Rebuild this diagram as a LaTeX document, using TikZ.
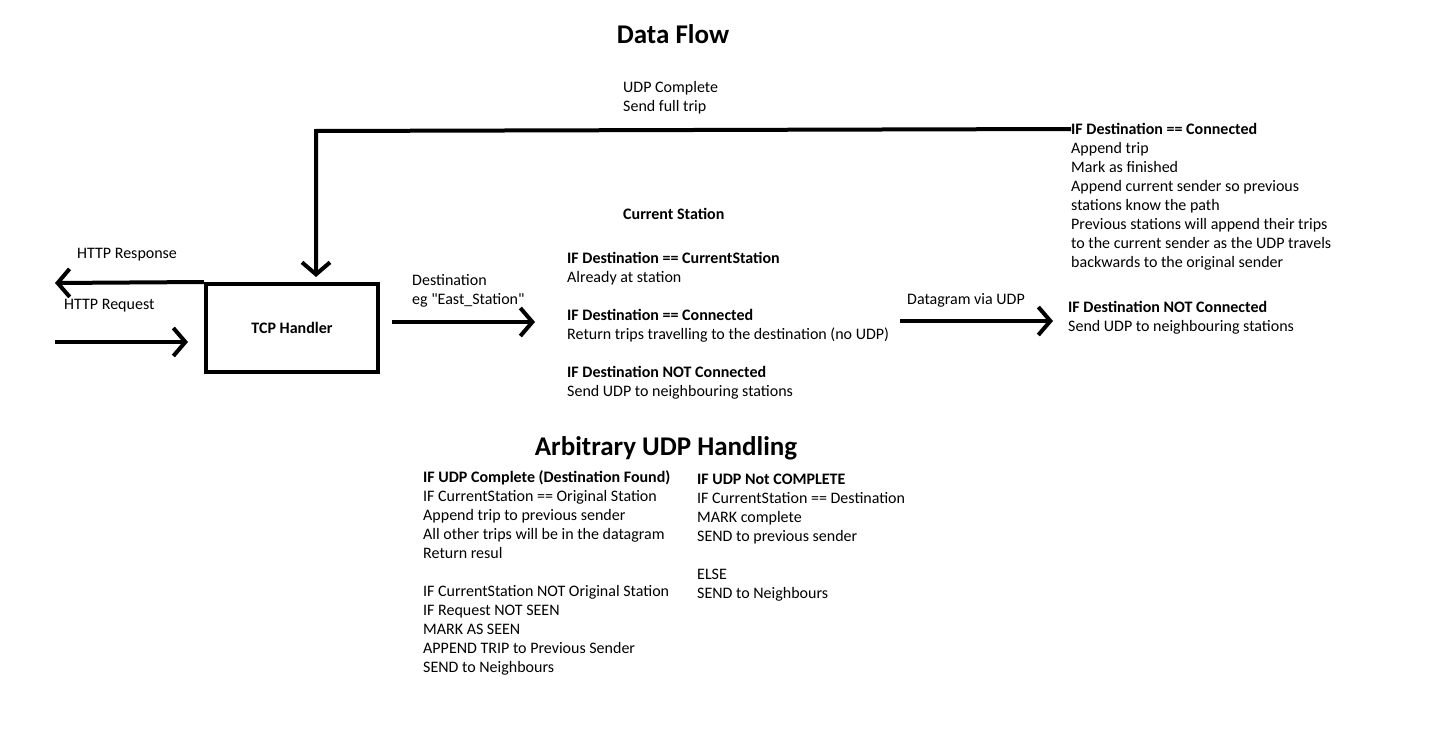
\documentclass[tikz,border=0pt]{standalone}
\usepackage{fontspec}
\setmainfont{Carlito}
\usetikzlibrary{arrows.meta,positioning}

\begin{document}
\begin{tikzpicture}[
    x=1pt, y=-1pt,
    txt/.style={inner sep=0pt, anchor=north west, align=left, font=\fontsize{16}{19}\selectfont},
    title/.style={inner sep=0pt, font=\fontsize{27}{30}\selectfont\bfseries},
    box/.style={rectangle, draw, line width=4pt, minimum width=172pt, minimum height=88pt, align=center, font=\fontsize{16}{19}\selectfont\bfseries},
    arrow/.style={-{Straight Barb[length=12pt,width=28pt]}, line width=4pt}
]
\useasboundingbox (0,0) rectangle (1441,741);

\node[title] (flow) at (673,34) {Data Flow};
\node[txt] (full) at (623,81) {UDP Complete\\Send full trip};

\node[box] (tcp) at (292,328) {TCP Handler};
\node[txt] (resplbl) at (77,248) {HTTP Response};
\node[txt] (reqlbl) at (64,299) {HTTP Request};
\node[txt] (destlbl) at (412,274) {Destination\\eg \textquotedbl East\_Station\textquotedbl};

\node[txt] (curtitle) at (623,208) {\bfseries Current Station};
\node[txt] (current) at (567,252) {\bfseries IF Destination == CurrentStation\\
Already at station\\[19pt]
\bfseries IF Destination == Connected\\
Return trips travelling to the destination (no UDP)\\[19pt]
\bfseries IF Destination NOT Connected\\
Send UDP to neighbouring stations};

\node[txt] (udplbl) at (907,293) {Datagram via UDP};

\node[txt] (connected) at (1071,123) {\bfseries IF Destination == Connected\\
Append trip\\
Mark as finished\\
Append current sender so previous\\
stations know the path\\
Previous stations will append their trips\\
to the current sender as the UDP travels\\
backwards to the original sender};
\node[txt] (notconn) at (1068,301) {\bfseries IF Destination NOT Connected\\
Send UDP to neighbouring stations};

\node[title] (arbitrary) at (666,448) {Arbitrary UDP Handling};
\node[txt] (complete) at (423,470) {\bfseries IF UDP Complete (Destination Found)\\
IF CurrentStation == Original Station\\
Append trip to previous sender\\
All other trips will be in the datagram\\
Return resul\\[19pt]
IF CurrentStation NOT Original Station\\
IF Request NOT SEEN\\
MARK AS SEEN\\
APPEND TRIP to Previous Sender\\
SEND to Neighbours};
\node[txt] (notcomplete) at (697,474) {\bfseries IF UDP Not COMPLETE\\
IF CurrentStation == Destination\\
MARK complete\\
SEND to previous sender\\[19pt]
ELSE\\
SEND to Neighbours};

\coordinate (turn) at (316,131);
\coordinate (resp) at (55,283);
\coordinate (req) at (55,342);

\draw[arrow] (connected.north west) ++(0,6) -- (turn) -- ([yshift=5pt]turn |- tcp.north);
\draw[arrow] (tcp.north west) -- (resp);
\draw[arrow] (req) -- ([xshift=-16pt]tcp.west |- req);
\draw[arrow] ([xshift=12pt]tcp.east |- 0,322) -- ([xshift=-32pt]current.west |- 0,322);
\draw[arrow] ([xshift=11pt]current.east |- 0,321) -- ([xshift=-15pt]notconn.west |- 0,321);
\end{tikzpicture}
\end{document}
